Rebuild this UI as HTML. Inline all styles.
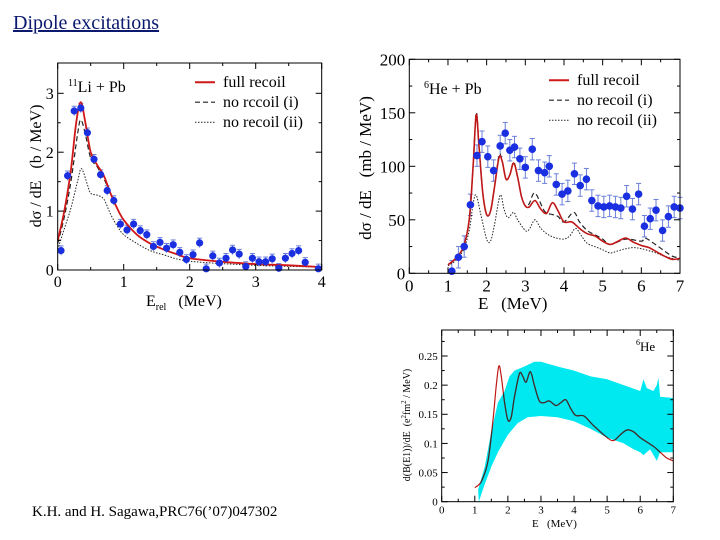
<!DOCTYPE html>
<html><head><meta charset="utf-8">
<style>
html,body{margin:0;padding:0;background:#fff;}
body{width:720px;height:540px;position:relative;overflow:hidden;font-family:"Liberation Serif",serif;}
#title{position:absolute;left:13px;top:12px;font-size:20px;color:#0b1a6e;text-decoration:underline;}
#cite{position:absolute;left:32px;top:504px;font-size:15px;color:#000;}
svg{position:absolute;left:0;top:0;}
</style></head>
<body>
<div id="title">Dipole excitations</div>
<div id="cite">K.H. and H. Sagawa,PRC76(’07)047302</div>
<svg id="svg" width="720" height="540"></svg>
<script>
// ---- Chart 1: 11Li + Pb ----
const li_pointE=[0.05,0.15,0.25,0.35,0.45,0.55,0.65,0.75,0.85,0.95,1.05,1.15,1.25,1.35,1.45,1.55,1.65,1.75,1.85,1.95,2.05,2.15,2.25,2.35,2.45,2.55,2.65,2.75,2.85,2.95,3.05,3.15,3.25,3.35,3.45,3.55,3.65,3.75,3.95];
const li_pointY=[0.33,1.6,2.7,2.75,2.33,1.88,1.62,1.35,1.18,0.78,0.68,0.78,0.67,0.6,0.4,0.47,0.37,0.43,0.3,0.18,0.26,0.46,0.02,0.24,0.12,0.2,0.34,0.27,0.06,0.2,0.14,0.14,0.19,0.03,0.2,0.28,0.33,0.13,0.02];
const li_fullE=[0,0.1,0.2,0.28,0.35,0.42,0.5,0.6,0.7,0.8,0.9,1.0,1.2,1.4,1.6,1.8,2.0,2.5,3.0,3.5,4.0];
const li_fullY=[0.5,1.0,1.7,2.5,2.85,2.5,2.0,1.78,1.6,1.3,1.05,0.85,0.6,0.45,0.35,0.27,0.2,0.14,0.1,0.08,0.05];
const li_iE=[0,0.1,0.2,0.3,0.35,0.42,0.5,0.6,0.7,0.8,0.9,1.0,1.2,1.4,1.6,1.8,2.0,2.5,3.0,3.5,4.0];
const li_iY=[0.45,0.9,1.5,2.3,2.55,2.3,1.9,1.75,1.55,1.3,1.05,0.85,0.6,0.45,0.35,0.27,0.2,0.14,0.1,0.08,0.05];
const li_iiE=[0,0.1,0.2,0.3,0.36,0.45,0.5,0.6,0.7,0.8,0.9,1.0,1.2,1.4,1.6,2.0,3.0,4.0];
const li_iiY=[0.35,0.7,1.05,1.5,1.72,1.45,1.3,1.27,1.2,0.95,0.75,0.6,0.45,0.33,0.26,0.15,0.08,0.05];
// ---- Chart 2: 6He + Pb ----
const he_pointE=[1.1,1.27,1.42,1.58,1.75,1.88,2.03,2.18,2.35,2.48,2.6,2.72,2.86,3.0,3.18,3.34,3.5,3.62,3.8,3.95,4.1,4.27,4.42,4.58,4.72,4.88,5.03,5.18,5.33,5.47,5.62,5.77,5.93,6.08,6.23,6.38,6.55,6.7,6.85,7.0];
const he_pointY=[2,15,25,64,110,123,109,96,119,131,115,118,107,99,116,96,94,100,83,74,77,93,82,88,68,63,62,63,62,61,72,60,74,44,51,59,40,53,62,61];
const he_fullE=[1.0,1.2,1.4,1.55,1.65,1.73,1.8,1.9,2.0,2.1,2.2,2.32,2.4,2.5,2.6,2.7,2.8,2.9,3.0,3.1,3.25,3.4,3.55,3.7,3.85,4.0,4.2,4.4,4.6,4.8,5.0,5.2,5.4,5.6,5.8,6.0,6.2,6.4,6.6,6.8,7.0];
const he_fullY=[8,14,25,50,100,148,120,75,55,58,80,108,105,88,92,103,90,72,63,62,68,60,56,66,58,48,48,42,37,35,30,27,30,33,29,26,24,20,16,13,14];
const he_iE=[1.0,1.2,1.4,1.55,1.65,1.73,1.8,1.9,2.0,2.1,2.2,2.32,2.4,2.5,2.6,2.7,2.8,2.9,3.0,3.1,3.25,3.5,3.7,3.85,4.0,4.25,4.4,4.6,4.8,5.0,5.2,5.6,6.0,6.1,6.4,6.8,7.0];
const he_iY=[8,14,25,50,100,150,120,75,55,58,80,110,105,88,92,104,90,72,63,65,75,58,55,53,48,57,48,40,36,32,27,32,30,33,26,16,15];
const he_iiE=[1.0,1.2,1.4,1.55,1.65,1.73,1.85,2.0,2.1,2.2,2.35,2.45,2.55,2.7,2.8,3.0,3.1,3.25,3.4,3.6,3.8,4.0,4.15,4.3,4.45,4.6,4.8,5.0,5.2,5.4,5.6,5.8,6.0,6.3,6.6,7.0];
const he_iiY=[7,12,22,40,65,73,55,32,30,45,73,60,52,57,50,40,41,50,42,36,33,32,35,42,35,28,25,22,19,21,23,24,23,20,16,12];
// ---- Chart 3: dB(E1)/dE ----
const be_upperE=[1.1,1.3,1.5,1.7,1.9,2.05,2.2,2.5,2.8,3.0,3.5,4.0,4.5,5.0,5.5,6.0,6.1,6.2,6.4,6.5,6.55,6.6,7.0];
const be_upperY=[0.02,0.06,0.12,0.17,0.19,0.215,0.225,0.232,0.24,0.24,0.232,0.225,0.215,0.21,0.2,0.19,0.21,0.195,0.19,0.2,0.213,0.18,0.178];
const be_lowerE=[1.12,1.3,1.5,1.7,2.0,2.3,2.6,3.0,3.5,4.0,4.5,5.0,5.5,5.8,6.0,6.1,6.3,6.5,6.6,7.0];
const be_lowerY=[0.0,0.03,0.06,0.085,0.115,0.135,0.145,0.147,0.145,0.138,0.125,0.11,0.1,0.09,0.085,0.08,0.09,0.07,0.085,0.085];
const be_curveE=[1.0,1.2,1.4,1.55,1.65,1.73,1.8,1.9,2.0,2.1,2.2,2.35,2.45,2.55,2.68,2.8,2.95,3.1,3.25,3.45,3.6,3.75,3.9,4.05,4.3,4.6,5.0,5.2,5.4,5.6,5.8,6.0,6.4,6.6,6.8,7.0];
const be_curveY=[0.024,0.035,0.07,0.14,0.2,0.233,0.215,0.17,0.14,0.145,0.18,0.22,0.215,0.205,0.223,0.2,0.173,0.17,0.173,0.165,0.17,0.175,0.16,0.148,0.147,0.13,0.11,0.105,0.115,0.123,0.12,0.11,0.095,0.085,0.075,0.07];

const NS='http://www.w3.org/2000/svg';
const svg=document.getElementById('svg');
function mk(tag,attrs,parent){const e=document.createElementNS(NS,tag);for(const k in attrs)e.setAttribute(k,attrs[k]);(parent||svg).appendChild(e);return e;}
function scale(d0,d1,r0,r1){return v=>r0+(v-d0)/(d1-d0)*(r1-r0);}
function smoothPath(xs,ys,sx,sy){
  const p=xs.map((x,i)=>[sx(x),sy(ys[i])]);
  let d='M'+p[0][0].toFixed(1)+','+p[0][1].toFixed(1);
  for(let i=0;i<p.length-1;i++){
    const p0=p[Math.max(0,i-1)],p1=p[i],p2=p[i+1],p3=p[Math.min(p.length-1,i+2)];
    const c1=[p1[0]+(p2[0]-p0[0])/6,p1[1]+(p2[1]-p0[1])/6];
    const c2=[p2[0]-(p3[0]-p1[0])/6,p2[1]-(p3[1]-p1[1])/6];
    d+=' C'+c1[0].toFixed(1)+','+c1[1].toFixed(1)+' '+c2[0].toFixed(1)+','+c2[1].toFixed(1)+' '+p2[0].toFixed(1)+','+p2[1].toFixed(1);
  }
  return d;
}
function frame(g,L,T,R,B,sx,sy,xt,yt,xminor,yminor,fs,ylabelFmt){
  mk('rect',{x:L,y:T,width:R-L,height:B-T,fill:'none',stroke:'#000','stroke-width':1},g);
  xt.forEach(v=>{const x=sx(v);mk('line',{x1:x,y1:B,x2:x,y2:B-6,stroke:'#000'},g);mk('line',{x1:x,y1:T,x2:x,y2:T+6,stroke:'#000'},g);
    const t=mk('text',{x:x,y:B+fs+1,'font-size':fs,'text-anchor':'middle'},g);t.textContent=v;});
  xminor.forEach(v=>{const x=sx(v);mk('line',{x1:x,y1:B,x2:x,y2:B-3,stroke:'#000'},g);mk('line',{x1:x,y1:T,x2:x,y2:T+3,stroke:'#000'},g);});
  yt.forEach(v=>{const y=sy(v);mk('line',{x1:L,y1:y,x2:L+6,y2:y,stroke:'#000'},g);mk('line',{x1:R,y1:y,x2:R-6,y2:y,stroke:'#000'},g);
    const t=mk('text',{x:L-4,y:y+fs*0.35,'font-size':fs,'text-anchor':'end'},g);t.textContent=ylabelFmt?ylabelFmt(v):v;});
  yminor.forEach(v=>{const y=sy(v);mk('line',{x1:L,y1:y,x2:L+3,y2:y,stroke:'#000'},g);mk('line',{x1:R,y1:y,x2:R-3,y2:y,stroke:'#000'},g);});
}
function legend(g,x,y,dy,fs,lab){
  const styles=[{stroke:'#d01818','stroke-width':2},{stroke:'#222','stroke-width':1.2,'stroke-dasharray':'5,3'},{stroke:'#222','stroke-width':1,'stroke-dasharray':'1.5,1.5'}];
  lab.forEach((l,i)=>{
    const e=mk('line',Object.assign({x1:x,y1:y+i*dy-fs*0.3,x2:x+20,y2:y+i*dy-fs*0.3},styles[i]),g);
    
    
    const t=mk('text',{x:x+28,y:y+i*dy,'font-size':fs},g);t.textContent=l;
    
    
  });
}
const range=(a,b,s)=>{const r=[];for(let v=a;v<=b+1e-9;v+=s)r.push(Math.round(v*1000)/1000);return r;};

// Chart 1
{
const g=mk('g',{});


const L=57.7,R=321.7,T=63,B=270;
const sx=scale(0,4,L,R),sy=scale(0,3,B,93.3);
const eb=0.08;
li_pointE.forEach((e,i)=>{const x=sx(e);
  mk('line',{x1:x,y1:sy(li_pointY[i]+eb),x2:x,y2:sy(Math.max(0,li_pointY[i]-eb)),stroke:'#6a7fd8','stroke-width':1},g);
  mk('line',{x1:x-2.5,y1:sy(li_pointY[i]+eb),x2:x+2.5,y2:sy(li_pointY[i]+eb),stroke:'#6a7fd8'},g);});
mk('path',{d:smoothPath(li_iiE,li_iiY,sx,sy),fill:'none',stroke:'#222','stroke-width':1,'stroke-dasharray':'1.5,1.5'},g);
mk('path',{d:smoothPath(li_iE,li_iY,sx,sy),fill:'none',stroke:'#222','stroke-width':1.2,'stroke-dasharray':'5,3'},g);
mk('path',{d:smoothPath(li_fullE,li_fullY,sx,sy),fill:'none',stroke:'#d01818','stroke-width':1.8},g);
li_pointE.forEach((e,i)=>{const c=mk('circle',{cx:sx(e),cy:sy(li_pointY[i]),r:3.6,fill:'#1a2fe0'},g);
  
  });
frame(g,L,T,R,B,sx,sy,[0,1,2,3,4],[0,1,2,3],range(0.5,3.5,1),range(0.5,2.5,1),16);
const t1=mk('text',{x:68,y:92,'font-size':16},g);t1.innerHTML='<tspan font-size="10" dy="-6">11</tspan><tspan dy="6">Li + Pb</tspan>';
legend(g,195,87,20,16,['full recoil','no rccoil (i)','no recoil (ii)']);
const xl=mk('text',{x:146,y:306,'font-size':16},g);xl.innerHTML='E<tspan font-size="10" dy="4">rel</tspan><tspan dy="-4">\u00a0\u00a0\u00a0(MeV)</tspan>';
const yl=mk('text',{x:0,y:0,'font-size':16,'text-anchor':'middle',transform:'translate(41,166) rotate(-90)'},g);yl.textContent='dσ / dE\u00a0\u00a0\u00a0(b / MeV)';
}
// Chart 2
{
const g=mk('g',{});


const L=409.3,R=680,T=59.3,B=273.3;
const sx=scale(0,7,L,R),sy=scale(0,200,B,59.3);
const eb=10;
he_pointE.forEach((e,i)=>{const x=sx(e);
  mk('line',{x1:x,y1:sy(he_pointY[i]+eb),x2:x,y2:sy(Math.max(0,he_pointY[i]-eb)),stroke:'#6a7fd8'},g);
  mk('line',{x1:x-2.5,y1:sy(he_pointY[i]+eb),x2:x+2.5,y2:sy(he_pointY[i]+eb),stroke:'#6a7fd8'},g);
  mk('line',{x1:x-2.5,y1:sy(Math.max(0,he_pointY[i]-eb)),x2:x+2.5,y2:sy(Math.max(0,he_pointY[i]-eb)),stroke:'#6a7fd8'},g);});
mk('path',{d:smoothPath(he_iiE,he_iiY,sx,sy),fill:'none',stroke:'#222','stroke-width':1,'stroke-dasharray':'1.5,1.5'},g);
mk('path',{d:smoothPath(he_iE,he_iY,sx,sy),fill:'none',stroke:'#222','stroke-width':1.2,'stroke-dasharray':'5,3'},g);
mk('path',{d:smoothPath(he_fullE,he_fullY,sx,sy),fill:'none',stroke:'#c01818','stroke-width':1.6},g);
he_pointE.forEach((e,i)=>{const c=mk('circle',{cx:sx(e),cy:sy(he_pointY[i]),r:3.8,fill:'#1a2fe0'},g);
  
  });
frame(g,L,T,R,B,sx,sy,[0,1,2,3,4,5,6,7],[0,50,100,150,200],range(0.5,6.5,1),range(25,175,50),17);
const t1=mk('text',{x:424,y:94,'font-size':16},g);t1.innerHTML='<tspan font-size="10" dy="-6">6</tspan><tspan dy="6">He + Pb</tspan>';
legend(g,549,85,20,16,['full recoil','no recoil (i)','no recoil (ii)']);
const xl=mk('text',{x:478,y:309,'font-size':17},g);xl.textContent='E\u00a0\u00a0\u00a0(MeV)';
const yl=mk('text',{x:0,y:0,'font-size':17,'text-anchor':'middle',transform:'translate(371,168) rotate(-90)'},g);yl.textContent='dσ / dE\u00a0\u00a0\u00a0(mb / MeV)';
}
// Chart 3
{
const g=mk('g',{});


const L=441.7,R=673.3,T=330,B=501.7;
const sx=scale(0,7,L,R),sy=scale(0,0.25,B,356);
let pts=be_upperE.map((e,i)=>sx(e).toFixed(1)+','+sy(be_upperY[i]).toFixed(1));
for(let i=be_lowerE.length-1;i>=0;i--)pts.push(sx(be_lowerE[i]).toFixed(1)+','+sy(be_lowerY[i]).toFixed(1));
const band=mk('polygon',{points:pts.join(' '),fill:'#00e8f0'},g);


const cp=mk('clipPath',{id:'bandclip'},g);mk('polygon',{points:pts.join(' ')},cp);
const d=smoothPath(be_curveE,be_curveY,sx,sy);
mk('path',{d:d,fill:'none',stroke:'#c01818','stroke-width':1.2},g);
mk('path',{d:d,fill:'none',stroke:'#333','stroke-width':1.2,'clip-path':'url(#bandclip)'},g);
frame(g,L,T,R,B,sx,sy,[0,1,2,3,4,5,6,7],[0,0.05,0.1,0.15,0.2,0.25],range(0.5,6.5,1),range(0.025,0.275,0.05),11);
const t1=mk('text',{x:636,y:351,'font-size':13},g);t1.innerHTML='<tspan font-size="8" dy="-6">6</tspan><tspan dy="6">He</tspan>';
const xl=mk('text',{x:532,y:527,'font-size':11},g);xl.textContent='E\u00a0\u00a0\u00a0(MeV)';
const yl=mk('text',{x:0,y:0,'font-size':10,'text-anchor':'middle',transform:'translate(410,425) rotate(-90)'},g);yl.innerHTML='d(B(E1))/dE\u00a0\u00a0(e<tspan font-size="7" dy="-4">2</tspan><tspan dy="4">fm</tspan><tspan font-size="7" dy="-4">2</tspan><tspan dy="4">\u00a0/ MeV)</tspan>';
}
</script>
</body></html>
